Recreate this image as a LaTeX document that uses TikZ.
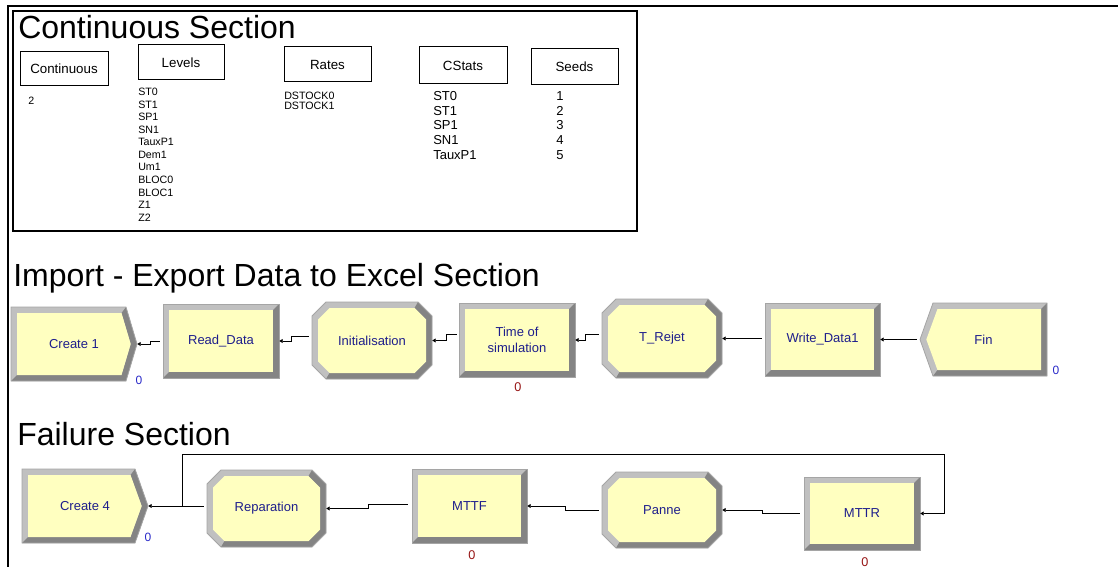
\documentclass[tikz,border=0pt]{standalone}
\usepackage{fontspec}
\setmainfont{Liberation Sans}
\usetikzlibrary{arrows.meta,calc}
\definecolor{blockfill}{RGB}{255,255,192}
\definecolor{bevlight}{RGB}{192,192,192}
\definecolor{bevdark}{RGB}{132,132,132}
\definecolor{bevline}{RGB}{165,165,165}
\definecolor{lbl}{RGB}{30,30,140}
\definecolor{cntblue}{RGB}{40,40,200}
\definecolor{cntred}{RGB}{150,20,20}
\tikzset{
  blk/.style={inner sep=0pt, text=lbl, font=\fontsize{9.75}{11.5}\selectfont, align=center},
  subbox/.style={draw=black, line width=0.75pt, inner sep=0pt, font=\fontsize{10}{12}\selectfont},
  smalltxt/.style={inner sep=0pt, anchor=base west, font=\fontsize{8}{9}\selectfont},
  midtxt/.style={inner sep=0pt, anchor=base west, font=\fontsize{9.75}{11}\selectfont},
  titletxt/.style={inner sep=0pt, anchor=base west, font=\fontsize{24}{28}\selectfont},
  cntb/.style={inner sep=0pt, text=cntblue, font=\fontsize{9}{10}\selectfont},
  cntr/.style={inner sep=0pt, text=cntred, font=\fontsize{9.5}{10}\selectfont},
  conn/.style={draw=black, line width=0.6pt, {Triangle[length=2.6pt,width=3pt]}-},
}
% rectangle block: name, x1, y1, x2, y2, label
\newcommand{\rectblock}[6]{%
  \fill[bevlight] (#2,#3) rectangle (#4,#5);
  \fill[bevdark] (#4,#3) -- (#4,#5) -- (#2,#5) -- ({#2+6},{#5-6}) -- ({#4-6},{#5-6}) -- ({#4-6},{#3+6}) -- cycle;
  \fill[blockfill] ({#2+6},{#3+6}) rectangle ({#4-6},{#5-6});
  \draw[bevline, line width=0.6pt] (#2,#3) rectangle (#4,#5);
  \node[blk, minimum width={(#4-#2)*0.75pt}, minimum height={(#5-#3)*0.75pt}] (#1) at ({(#2+#4)/2},{(#3+#5)/2}) {#6};
}
% octagon block: name, x1, y1, x2, y2, label  (chamfer 14, bevel 6)
\newcommand{\octblock}[6]{%
  \fill[bevlight] ({#2+14},#3) -- ({#4-14},#3) -- (#4,{#3+14}) -- (#4,{#5-14}) -- ({#4-14},#5) -- ({#2+14},#5) -- (#2,{#5-14}) -- (#2,{#3+14}) -- cycle;
  \fill[bevdark] ({#4-14},#3) -- (#4,{#3+14}) -- (#4,{#5-14}) -- ({#4-14},#5) -- ({#2+14},#5) -- ({#2+17.5},{#5-6}) -- ({#4-17.5},{#5-6}) -- ({#4-6},{#5-17.5}) -- ({#4-6},{#3+17.5}) -- ({#4-17.5},{#3+6}) -- cycle;
  \fill[blockfill] ({#2+17.5},{#3+6}) -- ({#4-17.5},{#3+6}) -- ({#4-6},{#3+17.5}) -- ({#4-6},{#5-17.5}) -- ({#4-17.5},{#5-6}) -- ({#2+17.5},{#5-6}) -- ({#2+6},{#5-17.5}) -- ({#2+6},{#3+17.5}) -- cycle;
  \draw[bevline, line width=0.6pt] ({#2+14},#3) -- ({#4-14},#3) -- (#4,{#3+14}) -- (#4,{#5-14}) -- ({#4-14},#5) -- ({#2+14},#5) -- (#2,{#5-14}) -- (#2,{#3+14}) -- cycle;
  \node[blk, minimum width={(#4-#2)*0.75pt}, minimum height={(#5-#3)*0.75pt}] (#1) at ({(#2+#4)/2},{(#3+#5)/2}) {#6};
}
% create block (point right): name, x1, y1, xs, xp, y2, label
\newcommand{\createblock}[7]{%
  \fill[bevlight] (#2,#3) -- (#4,#3) -- (#5,{(#3+#6)/2}) -- (#4,#6) -- (#2,#6) -- cycle;
  \fill[bevdark] (#4,#3) -- (#5,{(#3+#6)/2}) -- (#4,#6) -- (#2,#6) -- ({#2+6},{#6-6}) -- ({#4-4.5},{#6-6}) -- ({#5-6.3},{(#3+#6)/2}) -- ({#4-4.5},{#3+6}) -- cycle;
  \fill[blockfill] ({#2+6},{#3+6}) -- ({#4-4.5},{#3+6}) -- ({#5-6.3},{(#3+#6)/2}) -- ({#4-4.5},{#6-6}) -- ({#2+6},{#6-6}) -- cycle;
  \draw[bevline, line width=0.6pt] (#2,#3) -- (#4,#3) -- (#5,{(#3+#6)/2}) -- (#4,#6) -- (#2,#6) -- cycle;
  \node[blk, minimum width={(#5-#2)*0.75pt}, minimum height={(#6-#3)*0.75pt}] (#1) at ({(#2+#5)/2},{(#3+#6)/2}) {#7};
}
% dispose block (point left): name, xp, xs, y1, x2, y2, label
\newcommand{\disposeblock}[7]{%
  \fill[bevlight] (#2,{(#4+#6)/2}) -- (#3,#4) -- (#5,#4) -- (#5,#6) -- (#3,#6) -- cycle;
  \fill[bevdark] (#5,#4) -- (#5,#6) -- (#3,#6) -- ({#3+4.5},{#6-6}) -- ({#5-6},{#6-6}) -- ({#5-6},{#4+6}) -- cycle;
  \fill[blockfill] ({#2+6.3},{(#4+#6)/2}) -- ({#3+4.5},{#4+6}) -- ({#5-6},{#4+6}) -- ({#5-6},{#6-6}) -- ({#3+4.5},{#6-6}) -- cycle;
  \draw[bevline, line width=0.6pt] (#2,{(#4+#6)/2}) -- (#3,#4) -- (#5,#4) -- (#5,#6) -- (#3,#6) -- cycle;
  \node[blk, minimum width={(#5-#2)*0.75pt}, minimum height={(#6-#4)*0.75pt}] (#1) at ({(#2+#5)/2},{(#4+#6)/2}) {#7};
}
\begin{document}
\begin{tikzpicture}[x=0.75pt, y=-0.75pt]
\useasboundingbox (0,0) rectangle (1118,567);
% outer frame
\draw[black, line width=1.5pt] (8,567) -- (8,6) -- (1118,6);
% continuous section
\draw[black, line width=0.8pt] (13,11) rectangle (637,231);
\node[titletxt] (ttl1) at (18,39) {Continuous Section};
\node[subbox, minimum width=66pt, minimum height=25.5pt] (bcont) at (64,69) {Continuous};
\node[subbox, minimum width=64.5pt, minimum height=26.25pt] (blev) at (181,62.5) {Levels};
\node[subbox, minimum width=65.25pt, minimum height=26.25pt] (brat) at (327.5,64.5) {Rates};
\node[subbox, minimum width=66pt, minimum height=27.75pt] (bcst) at (463,65.5) {CStats};
\node[subbox, minimum width=65.25pt, minimum height=27pt] (bsee) at (574.5,67) {Seeds};
\node[smalltxt] (ctwo) at (28,104) {2};
\foreach \t [count=\i] in {ST0,ST1,SP1,SN1,TauxP1,Dem1,Um1,BLOC0,BLOC1,Z1,Z2}
  \node[smalltxt] (lv\i) at (138,{96+(\i-1)*12.5}) {\t};
\foreach \t [count=\i] in {DSTOCK0,DSTOCK1}
  \node[smalltxt] (rt\i) at (284,{99+(\i-1)*11}) {\t};
\foreach \t [count=\i] in {ST0,ST1,SP1,SN1,TauxP1}
  \node[midtxt] (cs\i) at (433,{100.5+(\i-1)*14.75}) {\t};
\foreach \t [count=\i] in {1,2,3,4,5}
  \node[midtxt] (sd\i) at (556,{100.5+(\i-1)*14.75}) {\t};
% import - export section
\node[titletxt] (ttl2) at (13,286) {Import - Export Data to Excel Section};
\createblock{create1}{11}{307}{126}{137}{381}{Create 1}
\rectblock{readdata}{163}{304}{279}{378}{Read\_Data}
\octblock{init}{312}{302}{432}{379}{Initialisation}
\rectblock{tsim}{459}{303}{575}{377}{Time of\\simulation}
\octblock{trejet}{602}{299}{722}{378}{T\_Rejet}
\rectblock{write}{765}{303}{880}{376}{Write\_Data1}
\disposeblock{fin}{920}{933}{303}{1047}{376}{Fin}
\node[cntb] (n1) at (139,380) {0};
\node[cntr] (n2) at (518,387) {0};
\node[cntb] (n3) at (1056,370) {0};
\draw[conn] (create1.east) -- ++(13,0) |- ([xshift=-2.25pt]readdata.west);
\draw[conn] (readdata.east) -- ++(12,0) |- ([xshift=-2.25pt,yshift=3pt]init.west);
\draw[conn] (init.east) -- ++(14,0) |- ([xshift=-1.5pt,yshift=4pt]tsim.west);
\draw[conn] (tsim.east) -- ++(10,0) |- ([xshift=-2.25pt,yshift=3pt]trejet.west);
\draw[conn] (trejet.east) -- ++(14,0) |- ([xshift=-2.25pt,yshift=1pt]write.west);
\draw[conn] (write.east) -- ++(19,0) |- ([xshift=-2.25pt]fin.west);
% failure section
\node[titletxt] (ttl3) at (17,445) {Failure Section};
\createblock{create4}{22}{469}{135}{148}{543}{Create 4}
\octblock{repar}{207}{470}{326}{547}{Reparation}
\rectblock{mttf}{412}{469}{527}{543}{MTTF}
\octblock{panne}{602}{472}{722}{548}{Panne}
\rectblock{mttr}{804}{477}{920}{550}{MTTR}
\node[cntb] (n4) at (148,537) {0};
\node[cntr] (n5) at (472,555) {0};
\node[cntr] (n6) at (865,562) {0};
\draw[conn] (create4.east) -- ++(34,0) coordinate (jn) |- ([xshift=-2.25pt,yshift=1.5pt]repar.west);
\draw[conn] (mttr.east) -- ++(24,0) |- ($(jn)+(0,-52)$) -- (jn);
\draw[conn] (repar.east) -- ++(42,0) |- ([xshift=-3pt,yshift=1pt]mttf.west);
\draw[conn] (mttf.east) -- ++(38,0) |- ([xshift=-2.25pt]panne.west);
\draw[conn] (panne.east) -- ++(40,0) |- ([xshift=-3pt]mttr.west);
\end{tikzpicture}
\end{document}
